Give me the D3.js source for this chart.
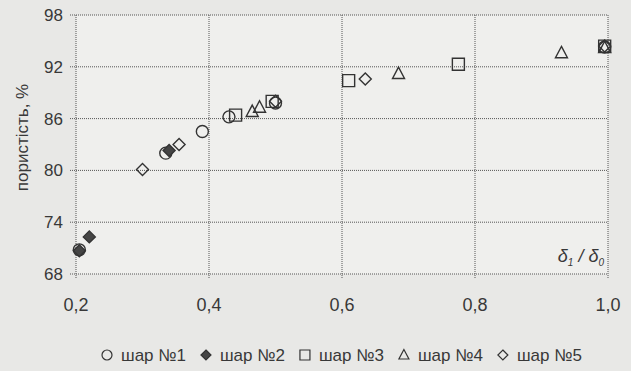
<!DOCTYPE html>
<html>
<head>
<meta charset="utf-8">
<script src="https://cdn.jsdelivr.net/npm/d3@7"></script>
<style>
  body { margin: 0; background: #e8e8e6; }
  svg { display: block; }
  text { font-family: Arial, "Liberation Sans", sans-serif; fill: #383838; }
</style>
</head>
<body>
<svg id="chart" width="631" height="371"></svg>
<script>
// data
const xTicks = [0.2, 0.4, 0.6, 0.8, 1.0];
const yTicks = [68, 74, 80, 86, 92, 98];

const ball1 = [[0.205, 70.8], [0.335, 82.0], [0.39, 84.5], [0.43, 86.2], [0.50, 87.8], [0.995, 94.3]];
const ball2 = [[0.205, 70.7], [0.22, 72.3], [0.34, 82.3]];
const ball3 = [[0.44, 86.4], [0.495, 88.0], [0.61, 90.4], [0.775, 92.3], [0.995, 94.4]];
const ball4 = [[0.465, 86.8], [0.476, 87.3], [0.685, 91.2], [0.93, 93.6], [0.995, 94.2]];
const ball5 = [[0.30, 80.1], [0.355, 83.0], [0.50, 88.0], [0.635, 90.6], [0.995, 94.4]];

const seriesNames = ["шар №1", "шар №2", "шар №3", "шар №4", "шар №5"];

const svg = d3.select("#chart");
const margin = {left: 76, right: 23, top: 15, bottom: 97};
const W = 631, H = 371;

const x = d3.scaleLinear().domain([0.2, 1.0]).range([margin.left, W - margin.right]);
const y = d3.scaleLinear().domain([68, 98]).range([H - margin.bottom, margin.top]);

// plot area
svg.append("rect")
  .attr("x", x(0.2)).attr("y", y(98))
  .attr("width", x(1.0) - x(0.2)).attr("height", y(68) - y(98))
  .attr("fill", "#efefed");

// grid
const grid = svg.append("g").attr("stroke", "#555").attr("stroke-width", 1).attr("stroke-dasharray", "1,1");
grid.selectAll(".h").data(yTicks).join("line")
  .attr("x1", x(0.2) - 6).attr("x2", x(1.0))
  .attr("y1", d => y(d)).attr("y2", d => y(d));
grid.selectAll(".v").data(xTicks).join("line")
  .attr("y1", y(98)).attr("y2", y(68) + 5)
  .attr("x1", d => x(d)).attr("x2", d => x(d));

// axes labels
const fmt = d => d.toFixed(1).replace(".", ",");
svg.append("g").selectAll("text").data(xTicks).join("text")
  .attr("x", d => x(d)).attr("y", y(68) + 37)
  .attr("text-anchor", "middle").attr("font-size", 18)
  .text(fmt);

svg.append("g").selectAll("text").data(yTicks).join("text")
  .attr("x", x(0.2) - 13).attr("y", d => y(d) + 6)
  .attr("text-anchor", "end").attr("font-size", 17)
  .text(d => d);

svg.append("text")
  .attr("transform", `translate(28,${(y(68) + y(98)) / 2 - 7}) rotate(-90)`)
  .attr("text-anchor", "middle").attr("font-size", 17)
  .text("пористість, %");

// annotation
const ann = svg.append("text")
  .attr("x", x(1.0) - 4).attr("y", y(68) - 12)
  .attr("text-anchor", "end").attr("font-size", 18)
  .attr("font-style", "italic").attr("font-family", "'Liberation Serif', serif");
ann.append("tspan").text("δ");
ann.append("tspan").attr("font-size", 10).attr("dy", 4).text("1");
ann.append("tspan").attr("dy", -4).text(" / δ");
ann.append("tspan").attr("font-size", 10).attr("dy", 4).text("0");

// markers, drawn as paths of a given half-size r
const shapes = {
  circle: r => { const p = d3.path(); p.arc(0, 0, r, 0, 2 * Math.PI); return p.toString(); },
  diamond: r => `M0,${-r}L${r},0L0,${r}L${-r},0Z`,
  square: r => `M${-r},${-r}H${r}V${r}H${-r}Z`,
  triangle: r => `M0,${-r * 1.1}L${r},${r * 0.8}H${-r}Z`
};
const stroke = "#333";
const series = [
  {data: ball1, shape: "circle", fill: "none"},
  {data: ball2, shape: "diamond", fill: "#454545"},
  {data: ball3, shape: "square", fill: "none"},
  {data: ball4, shape: "triangle", fill: "none"},
  {data: ball5, shape: "diamond", fill: "none"}
];

const marks = svg.append("g");
series.forEach(s => {
  marks.append("g").selectAll("path").data(s.data).join("path")
    .attr("transform", d => `translate(${x(d[0])},${y(d[1])})`)
    .attr("d", shapes[s.shape](6))
    .attr("fill", s.fill)
    .attr("stroke", stroke)
    .attr("stroke-width", 1.4);
});

// legend
const legend = svg.append("g").attr("transform", "translate(0,361)");
let lx = 107;
series.forEach((s, i) => {
  legend.append("path")
    .attr("transform", `translate(${lx},-6)`)
    .attr("d", shapes[s.shape](5))
    .attr("fill", s.fill).attr("stroke", stroke).attr("stroke-width", 1.2);
  const t = legend.append("text")
    .attr("x", lx + 14).attr("y", 0)
    .attr("font-size", 17)
    .text(seriesNames[i]);
  lx += t.node().getComputedTextLength() + 14 + 20;
});
</script>
</body>
</html>
